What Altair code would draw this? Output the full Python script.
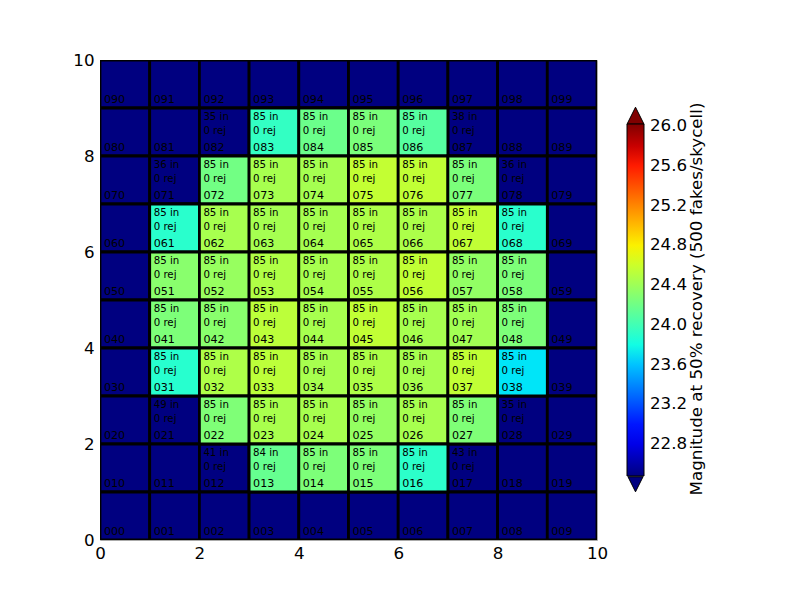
import altair as alt
import pandas as pd

# magnitude at 50% recovery per skycell, rows from y=9 (top) down to y=0
mag = [
    [None] * 10,
    [None, None, None, 23.94, 24.18, 24.25, 24.09, None, None, None],
    [None, None, 24.21, 24.44, 24.43, 24.56, 24.55, 24.25, None, None],
    [None, 23.90, 24.44, 24.43, 24.43, 24.47, 24.46, 24.55, 23.90, None],
    [None, 24.31, 24.37, 24.48, 24.44, 24.47, 24.55, 24.35, 24.26, None],
    [None, 24.26, 24.31, 24.53, 24.44, 24.55, 24.44, 24.42, 24.26, None],
    [None, 23.89, 24.47, 24.53, 24.44, 24.47, 24.44, 24.55, 23.72, None],
    [None, None, 24.27, 24.45, 24.44, 24.36, 24.44, 24.27, None, None],
    [None, None, None, 24.16, 24.26, 24.26, 23.91, None, None, None],
    [None] * 10,
]

# fakes recovered ("in") per skycell, same layout
n_in = [
    [None] * 10,
    [None, None, 35, 85, 85, 85, 85, 38, None, None],
    [None, 36, 85, 85, 85, 85, 85, 85, 36, None],
    [None, 85, 85, 85, 85, 85, 85, 85, 85, None],
    [None, 85, 85, 85, 85, 85, 85, 85, 85, None],
    [None, 85, 85, 85, 85, 85, 85, 85, 85, None],
    [None, 85, 85, 85, 85, 85, 85, 85, 85, None],
    [None, 49, 85, 85, 85, 85, 85, 85, 35, None],
    [None, None, 41, 84, 85, 85, 85, 43, None, None],
    [None] * 10,
]
n_rej = 0

cbar_ticks = [22.8, 23.2, 23.6, 24.0, 24.4, 24.8, 25.2, 25.6, 26.0]
vmin, vmax = 22.48, 26.02

# jet colormap breakpoints
jet_t = [0, 0.11, 0.125, 0.34, 0.35, 0.375, 0.64, 0.65, 0.66, 0.89, 0.91, 1]
jet_c = ['#000080', '#0000ff', '#0000ff', '#00dbff', '#00e5f8', '#14ffe2',
         '#eeff08', '#f7f600', '#ffec00', '#ff1300', '#e80000', '#800000']

rows = []
for i, (mrow, nrow) in enumerate(zip(mag, n_in)):
    y = 9 - i
    for x in range(10):
        n = nrow[x]
        rows.append(dict(
            x=x, x2=x + 1, y=y, y2=y + 1, mag=mrow[x],
            cell=f"0{y}{x}",
            txt_in=f"{n} in" if n is not None else None,
            txt_rej=f"{n_rej} rej" if n is not None else None,
        ))
df = pd.DataFrame(rows)

font = 'DejaVu Sans'
fs = 16.7
xenc = alt.X('x:Q', scale=alt.Scale(domain=[0, 10], nice=False),
             axis=alt.Axis(values=[0, 2, 4, 6, 8, 10], title=None, labelPadding=5))
yenc = alt.Y('y:Q', scale=alt.Scale(domain=[0, 10], nice=False),
             axis=alt.Axis(values=[0, 2, 4, 6, 8, 10], title=None, labelPadding=6))

base = alt.Chart(df)

bg = base.mark_rect(color='#000080', stroke='black', strokeWidth=2.8, clip=True).encode(
    x=xenc, x2='x2', y=yenc, y2='y2')

jet = alt.Scale(domain=[vmin + (vmax - vmin) * t for t in jet_t], range=jet_c,
                interpolate='rgb')
cells = base.transform_filter('datum.mag != null').mark_rect(
    stroke='black', strokeWidth=2.8, clip=True).encode(
    x=xenc, x2='x2', y=yenc, y2='y2',
    color=alt.Color('mag:Q', scale=jet, legend=alt.Legend(
        orient='none', legendX=527, legendY=64, direction='vertical',
        gradientLength=352, gradientThickness=17, gradientStrokeColor='black',
        gradientStrokeWidth=1, values=cbar_ticks, format='.1f', title=None,
        labelFontSize=fs, labelFont=font, labelColor='black', labelOffset=6,
        labelOverlap=False, padding=0)))

txt_id = base.transform_calculate(tx='datum.x + 0.08', ty='datum.y + 0.1').mark_text(
    align='left', baseline='alphabetic', font=font, fontSize=11.1, color='black').encode(
    x='tx:Q', y='ty:Q', text='cell:N')

txt_in = base.transform_filter('datum.txt_in != null').transform_calculate(
    tx='datum.x + 0.08', ty='datum.y + 0.75').mark_text(
    align='left', baseline='alphabetic', font=font, fontSize=10.2, color='black').encode(
    x='tx:Q', y='ty:Q', text='txt_in:N')

txt_rej = base.transform_filter('datum.txt_rej != null').transform_calculate(
    tx='datum.x + 0.08', ty='datum.y + 0.45').mark_text(
    align='left', baseline='alphabetic', font=font, fontSize=10.2, color='black').encode(
    x='tx:Q', y='ty:Q', text='txt_rej:N')

one = pd.DataFrame({'k': [0]})
tri_up = alt.Chart(one).mark_point(
    shape='M-1,1L1,1L0,-1Z', size=289, filled=True, fill='#800000', stroke='black',
    strokeWidth=1, opacity=1).encode(x=alt.value(535.5), y=alt.value(55.7))
tri_down = alt.Chart(one).mark_point(
    shape='M-1,-1L1,-1L0,1Z', size=225, filled=True, fill='#000080', stroke='black',
    strokeWidth=1, opacity=1).encode(x=alt.value(535.5), y=alt.value(424.3))

cbar_title = alt.Chart(one).mark_text(
    text='Magnitude at 50% recovery (500 fakes/skycell)', angle=270, font=font,
    fontSize=fs, color='black', align='center', baseline='middle').encode(
    x=alt.value(597), y=alt.value(239))

chart = alt.layer(bg, cells, txt_id, txt_in, txt_rej, tri_up, tri_down, cbar_title).properties(
    width=497, height=480,
    autosize=alt.AutoSizeParams(type='none'),
    padding={'left': 92, 'top': 52, 'right': 195, 'bottom': 52},
).configure_axis(
    domain=False, ticks=False, grid=False, labelFont=font, labelFontSize=fs,
    labelColor='black', labelFlush=False,
).configure_view(stroke='#aaaaaa')

chart.save("out.html", embed_options={"renderer": "svg", "actions": False})
